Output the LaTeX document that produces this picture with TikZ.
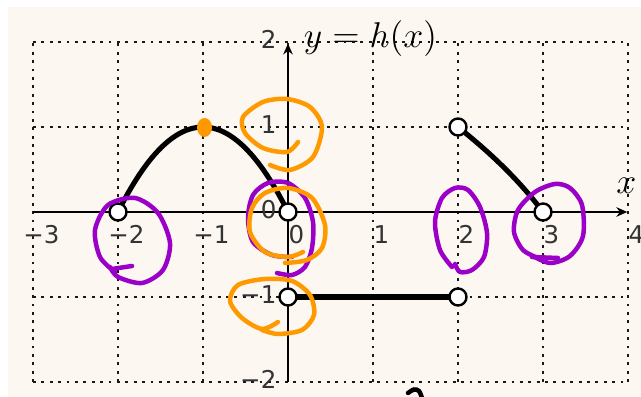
\documentclass[tikz,border=0pt]{standalone}
\usepackage{fontspec}
\newfontfamily\tickfont{DejaVu Sans}
\usetikzlibrary{arrows.meta}
\definecolor{bg}{RGB}{252,247,240}
\definecolor{penpurple}{RGB}{155,0,200}
\definecolor{penorange}{RGB}{255,153,0}
\tikzset{
  gridline/.style={black!90, line width=0.95pt, dash pattern=on 0.95pt off 1.86pt},
  axisline/.style={line width=0.7pt, -{Stealth[length=3.6pt,width=3.2pt]}},
  graphline/.style={line width=1.7pt},
  hole/.style={circle, draw=black, fill=white, line width=0.8pt, minimum size=0.2cm, inner sep=0pt},
  xtick/.style={anchor=base, inner sep=0pt, font=\fontsize{8.2}{10}\tickfont, text=black!80},
  ytick/.style={anchor=base east, inner sep=0pt, font=\fontsize{8.2}{10}\tickfont, text=black!80},
  mathlabel/.style={inner sep=0pt, font=\fontsize{11.8}{14}\selectfont},
  penP/.style={penpurple, line width=1.5pt, line cap=round, line join=round},
  penO/.style={penorange, line width=1.5pt, line cap=round, line join=round}
}
\begin{document}
\begin{tikzpicture}
\useasboundingbox (-3.3882,-2.1765) rectangle (4.1529,2.4941);
\fill[white] (-3.3882,-2.1765) rectangle (4.1529,2.4941);
\fill[bg] (-3.2941,-2.1765) rectangle (4.1529,2.4118);
% grid
\draw[gridline] (-3,-2) grid (4,2);
% axes
\coordinate (xs) at (-3,0);
\coordinate (xe) at (3.99,0);
\coordinate (ys) at (0,-2);
\coordinate (ye) at (0,1.98);
\draw[axisline] (xs) -- (xe);
\draw[axisline] (ys) -- (ye);
% tick labels
\foreach \v/\t in {-3/−3,-2/−2,-1/−1,0/0,1/1,2/2,3/3,4/4}
  \node[xtick] (xl\v) at (\v+0.1,-0.365) {\t};
\foreach \v/\t in {-2/−2,-1/−1,0/0,1/1,2/2}
  \node[ytick] (yl\v) at (-0.13,\v-0.08) {\t};
\node[mathlabel, anchor=base west] (hl) at (0.18,1.93) {$y=h(x)$};
\node[mathlabel] (xlab) at (3.98,0.31) {$x$};
% graph
\coordinate (p1) at (-2,0);
\coordinate (p2) at (0,0);
\coordinate (p3) at (0,-1);
\coordinate (p4) at (2,-1);
\coordinate (p5) at (2,1);
\coordinate (p6) at (3,0);
\draw[graphline] (p1) .. controls (-1.3333,1.3333) and (-0.6667,1.3333) .. (p2);
\draw[graphline] (p3) -- (p4);
\draw[graphline] (p5) .. controls (2.35,0.72) and (2.7,0.4) .. (p6);
\foreach \p in {p1,p2,p3,p4,p5,p6}
  \node[hole] (h\p) at (\p) {};
% handwritten annotations (pixel coordinates)
\begin{scope}[shift={(-3.3882,2.4941)}, x=0.0117647cm, y=-0.0117647cm]
  \fill[penorange] (204.5,127.5) ellipse [x radius=7.5, y radius=9.5];
  \draw[penO] plot[smooth] coordinates {(298,142) (287,152) (263,148) (245,133) (243,117) (263,102) (287,99) (310,107) (322,127) (313,157) (290,170) (270,165)};
  \draw[penP] plot[smooth] coordinates {(277,273) (292,275) (305,267) (312,248) (313,222) (305,198) (288,183) (268,183) (253,195) (248,218) (253,242) (272,255) (292,257)};
  \draw[penO] plot[smooth] coordinates {(303,252) (288,257) (265,252) (250,232) (252,208) (265,193) (288,188) (312,198) (325,225) (322,248) (307,260) (285,263)};
  \draw[penO] plot[smooth] coordinates {(278,322) (262,329) (242,318) (230,301) (238,285) (265,279) (292,281) (310,295) (314,315) (302,330) (278,334) (262,330)};
  \draw[penP] (132,266) -- (112,269);
  \draw[penP] plot[smooth] coordinates {(110,267) (118,277) (142,283) (163,270) (170,243) (158,213) (135,198) (108,205) (95,230) (100,257) (115,272)};
  \draw[penP] plot[smooth] coordinates {(455,264) (460,272) (472,270) (484,257) (487,233) (480,207) (468,190) (455,188) (442,198) (435,222) (440,250) (452,267)};
  \draw[penP] plot[smooth] coordinates {(531,255) (550,263) (570,256) (583,236) (582,205) (570,188) (555,184) (535,192) (518,210) (514,232) (523,250) (538,258)};
  \draw[penP] (532,257) -- (558,258);
  \draw[line width=1.5pt, line cap=round] plot[smooth] coordinates {(408,393) (414,389.5) (419,391) (422,398)};
\end{scope}
\end{tikzpicture}
\end{document}
